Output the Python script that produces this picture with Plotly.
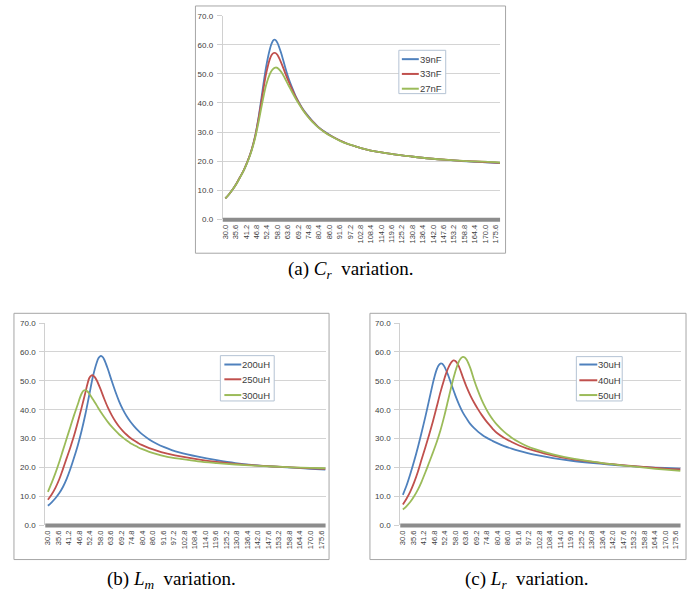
import plotly.graph_objects as go

# ---------------- data ----------------
tick_freqs = [30.0 + 5.6 * k for k in range(27)]
tick_labels = ["%.1f" % v for v in tick_freqs]
y_ticks = [0, 10, 20, 30, 40, 50, 60, 70]

names_a = ["39nF", "33nF", "27nF"]
names_b = ["200uH", "250uH", "300uH"]
names_c = ["30uH", "40uH", "50uH"]

# (a) Cr variation
f_a = [30, 32, 34, 36, 38, 40, 42, 44, 46, 48, 50, 52, 54, 55, 56, 57, 58, 60, 62, 64, 66, 68, 70, 72, 74, 76, 78, 80,
       84, 88, 92, 96, 100, 110, 120, 130, 140, 150, 160, 170, 178]
v_a_39 = [7.2, 8.6, 10.3, 12.3, 14.6, 17.0, 20.0, 23.6, 28.5, 35.5, 44.2, 52.6, 58.6, 60.6, 61.7, 61.7, 60.8,
          57.3, 52.8, 48.6, 45.2, 42.2, 39.8, 37.7, 36.0, 34.5, 33.1, 31.8,
          29.9, 28.3, 27.0, 25.9, 25.1, 23.4, 22.4, 21.6, 20.9, 20.4, 19.9, 19.6, 19.3]
v_a_33 = [7.2, 8.6, 10.3, 12.3, 14.6, 17.0, 20.0, 23.6, 28.4, 35.0, 42.8, 50.2, 55.2, 56.6, 57.2, 57.2, 56.6,
          54.0, 50.7, 47.5, 44.6, 41.9, 39.6, 37.5, 35.8, 34.3, 33.0, 31.7,
          29.8, 28.3, 27.0, 25.9, 25.1, 23.4, 22.4, 21.6, 20.9, 20.4, 20.0, 19.7, 19.4]
v_a_27 = [7.2, 8.6, 10.3, 12.2, 14.5, 16.9, 19.8, 23.3, 27.9, 33.8, 40.4, 46.3, 50.0, 51.2, 51.9, 52.2, 52.1,
          50.8, 48.6, 46.1, 43.7, 41.4, 39.3, 37.3, 35.6, 34.1, 32.8, 31.6,
          29.7, 28.2, 26.9, 25.9, 25.1, 23.4, 22.4, 21.6, 20.9, 20.4, 20.0, 19.8, 19.5]

# (b) Lm variation
f_b_200 = [30, 32, 34, 36, 38, 40, 42, 44, 46, 48, 50, 52, 54, 56, 57, 58, 59, 60, 62, 64, 66, 68, 70, 72, 74, 76, 78, 80,
           84, 88, 92, 96, 100, 110, 120, 130, 140, 150, 160, 170, 178]
v_b_200 = [6.7, 7.9, 9.3, 11.0, 13.2, 16.0, 19.5, 23.5, 27.8, 32.8, 38.5, 45.0, 51.5, 56.3, 57.9, 58.6, 58.4, 57.4,
           54.0, 50.0, 46.2, 42.8, 40.0, 37.7, 35.8, 34.2, 32.8, 31.6,
           29.7, 28.2, 27.0, 26.0, 25.2, 23.7, 22.5, 21.5, 20.8, 20.3, 19.9, 19.5, 19.2]
f_b_250 = [30, 32, 34, 36, 38, 40, 42, 44, 46, 48, 50, 51, 52, 53, 54, 55, 56, 58, 60, 62, 64, 66, 68, 70, 72, 74, 76, 78, 80,
           84, 88, 92, 96, 100, 110, 120, 130, 140, 150, 160, 170, 178]
v_b_250 = [8.8, 10.6, 12.9, 15.8, 19.4, 23.2, 27.0, 31.1, 35.8, 40.8, 46.0, 48.7, 50.9, 51.8, 51.9, 51.3, 50.2,
           47.2, 43.8, 40.7, 38.1, 35.9, 34.1, 32.6, 31.3, 30.2, 29.3, 28.5, 27.8,
           26.7, 25.8, 25.0, 24.4, 23.9, 22.8, 21.9, 21.2, 20.7, 20.3, 20.0, 19.7, 19.5]
f_b_300 = [30, 32, 34, 36, 38, 40, 42, 44, 46, 47, 48, 49, 50, 51, 52, 54, 56, 58, 60, 62, 64, 66, 68, 70, 72, 74, 76, 78, 80,
           84, 88, 92, 96, 100, 110, 120, 130, 140, 150, 160, 170, 178]
v_b_300 = [11.5, 14.6, 18.0, 21.8, 25.9, 30.0, 34.1, 38.2, 42.0, 44.0, 45.6, 46.6, 46.8, 46.4, 45.6,
           43.6, 41.5, 39.4, 37.5, 35.7, 34.1, 32.7, 31.4, 30.3, 29.3, 28.4, 27.7, 27.0, 26.4,
           25.4, 24.6, 23.9, 23.4, 23.0, 22.1, 21.5, 21.0, 20.6, 20.3, 20.0, 19.8, 19.7]

# (c) Lr variation
f_c_30 = [30, 32, 34, 36, 38, 40, 42, 44, 46, 47, 48, 49, 50, 51, 52, 54, 56, 58, 60, 62, 64, 66, 68, 70, 72, 74, 76, 78, 80,
          84, 88, 92, 96, 100, 110, 120, 130, 140, 150, 160, 170, 178]
v_c_30 = [10.5, 13.8, 17.8, 22.2, 27.0, 32.2, 37.6, 43.4, 49.2, 51.8, 53.9, 55.3, 56.0, 55.9, 55.1,
          52.2, 48.5, 44.9, 41.7, 39.0, 36.9, 35.0, 33.6, 32.4, 31.4, 30.5, 29.8, 29.1, 28.5,
          27.4, 26.5, 25.7, 25.0, 24.4, 23.2, 22.3, 21.6, 21.0, 20.5, 20.1, 19.8, 19.6]
f_c_40 = [30, 32, 34, 36, 38, 40, 42, 44, 46, 48, 50, 52, 53, 54, 55, 56, 57, 58, 59, 60, 62, 64, 66, 68, 70, 72, 74, 76, 78, 80,
          84, 88, 92, 96, 100, 110, 120, 130, 140, 150, 160, 170, 178]
v_c_40 = [7.1, 9.2, 11.7, 14.8, 18.5, 22.8, 27.0, 31.3, 35.9, 40.9, 46.0, 50.5, 52.5, 54.2, 55.6, 56.6, 57.1, 56.9, 56.1, 54.8,
          51.2, 47.8, 44.9, 42.4, 40.2, 38.2, 36.4, 34.8, 33.3, 32.0,
          30.2, 28.8, 27.6, 26.6, 25.8, 24.1, 22.9, 22.0, 21.2, 20.6, 20.1, 19.6, 19.3]
f_c_50 = [30, 32, 34, 36, 38, 40, 42, 44, 46, 48, 50, 52, 54, 56, 58, 59, 60, 61, 62, 63, 64, 66, 68, 70, 72, 74, 76, 78, 80,
          84, 88, 92, 96, 100, 110, 120, 130, 140, 150, 160, 170, 178]
v_c_50 = [5.4, 6.6, 8.1, 10.0, 12.3, 15.1, 18.3, 21.7, 25.1, 28.7, 32.8, 37.6, 43.0, 48.5, 53.3, 55.3, 56.9, 57.9, 58.3, 58.1, 57.3,
          54.3, 50.2, 46.6, 43.4, 40.7, 38.4, 36.5, 34.9,
          32.3, 30.3, 28.7, 27.4, 26.4, 24.5, 23.1, 22.1, 21.2, 20.5, 19.8, 19.2, 18.8]

colors = ["#4F81BD", "#C0504D", "#9BBB59"]

W, H = 696, 601
def px(x):
    return x / W
def py(y):
    return 1 - y / H

x_range = [28.6, 178]

panels = [
    dict(ax="", series=[(f_a, v_a_39), (f_a, v_a_33), (f_a, v_a_27)], names=names_a,
         xdom=[221.4, 499.5], ydom=[218.5, 12], frame=(194, 2, 505, 253),
         leg=dict(box=(398, 47, 445, 91), l0=401, l1=418, rows=[56, 71, 86]),
         cap=("(a) <i>C<sub>r</sub></i>  variation.", 350, 270)),
    dict(ax="2", series=[(f_b_200, v_b_200), (f_b_250, v_b_250), (f_b_300, v_b_300)], names=names_b,
         xdom=[43.4, 324.5], ydom=[529, 324], frame=(12, 314, 328, 564),
         leg=dict(box=(219, 357, 273, 403), l0=223, l1=240, rows=[366, 381, 397]),
         cap=("(b) <i>L<sub>m</sub></i>  variation.", 170, 585)),
    dict(ax="3", series=[(f_c_30, v_c_30), (f_c_40, v_c_40), (f_c_50, v_c_50)], names=names_c,
         xdom=[399.4, 680.5], ydom=[529, 324], frame=(369, 314, 686, 564),
         leg=dict(box=(576, 358, 622, 403), l0=579, l1=597, rows=[366, 382, 397]),
         cap=("(c) <i>L<sub>r</sub></i>  variation.", 526, 585)),
]

fig = go.Figure()
shapes = []
annotations = []
layout_axes = {}

for p in panels:
    ax = p["ax"]
    for (fx, vy), name, col in zip(p["series"], p["names"], colors):
        fig.add_trace(go.Scatter(
            x=fx, y=vy, name=name, mode="lines",
            line=dict(color=col, width=1.8, shape="spline", smoothing=0.9),
            xaxis="x" + ax, yaxis="y" + ax, showlegend=False,
            hoverinfo="x+y+name"))
    layout_axes["xaxis" + ax] = dict(
        domain=[px(p["xdom"][0]), px(p["xdom"][1])], range=x_range,
        anchor="y" + ax, tickmode="array", tickvals=tick_freqs, ticktext=tick_labels,
        tickangle=-90, tickfont=dict(family="Liberation Sans", size=7.5, color="#404040"),
        showgrid=False, zeroline=False, showline=False, ticks="", ticklabelstandoff=3)
    layout_axes["yaxis" + ax] = dict(
        domain=[py(p["ydom"][0]), py(p["ydom"][1])], range=[0, 70],
        anchor="x" + ax, tickmode="array", tickvals=y_ticks, tickformat=".1f",
        tickfont=dict(family="Liberation Sans", size=8, color="#404040"),
        showgrid=True, gridcolor="#D4D4D4", gridwidth=1, zeroline=False,
        showline=True, linecolor="#D0D0D0", linewidth=1,
        ticks="outside", ticklen=5, tickcolor="#D0D0D0", ticklabelstandoff=2)
    # thick gray floor band at 0 (paper coords so it is not clipped)
    band_y = p["ydom"][0] + 0.5
    shapes.append(dict(type="line", xref="paper", yref="paper",
                       x0=px(p["xdom"][0]), x1=px(p["xdom"][1]), y0=py(band_y), y1=py(band_y),
                       line=dict(color="#8C8C8C", width=4), layer="above"))
    # outer chart frame
    fx0, fy0, fx1, fy1 = p["frame"]
    shapes.append(dict(type="rect", xref="paper", yref="paper",
                       x0=px(fx0), x1=px(fx1), y0=py(fy1), y1=py(fy0),
                       line=dict(color="#A6A6A6", width=1), fillcolor="rgba(0,0,0,0)"))
    # legend
    lg = p["leg"]
    bx0, by0, bx1, by1 = lg["box"]
    shapes.append(dict(type="rect", xref="paper", yref="paper",
                       x0=px(bx0), x1=px(bx1), y0=py(by1), y1=py(by0),
                       line=dict(color="#B4C3D4", width=1), fillcolor="white", layer="above"))
    for name, col, ry in zip(p["names"], colors, lg["rows"]):
        shapes.append(dict(type="line", xref="paper", yref="paper",
                           x0=px(lg["l0"]), x1=px(lg["l1"]), y0=py(ry), y1=py(ry),
                           line=dict(color=col, width=2), layer="above"))
        annotations.append(dict(text=name, xref="paper", yref="paper",
                                x=px(lg["l1"]), y=py(ry), xanchor="left", yanchor="middle",
                                showarrow=False, xshift=-1,
                                font=dict(family="Liberation Sans", size=9.5, color="#404040")))
    # caption
    ctext, cx, cy = p["cap"]
    annotations.append(dict(text=ctext, xref="paper", yref="paper", x=px(cx), y=py(cy),
                            xanchor="center", yanchor="middle", showarrow=False,
                            font=dict(family="Liberation Serif", size=19, color="black")))

fig.update_layout(
    width=W, height=H, margin=dict(l=0, r=0, t=0, b=0),
    paper_bgcolor="white", plot_bgcolor="white",
    shapes=shapes, annotations=annotations, showlegend=False,
    **layout_axes)

fig.write_html("out.html")
